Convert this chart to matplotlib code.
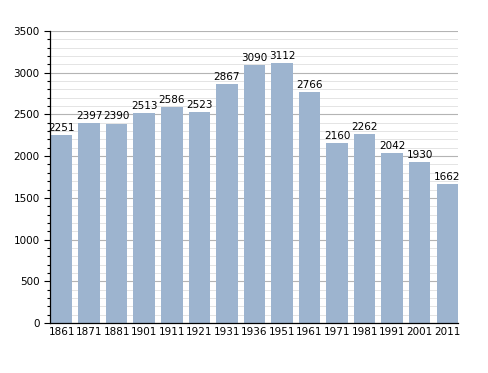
import numpy as np
import matplotlib
matplotlib.use("Agg")
import matplotlib.pyplot as plt
from matplotlib.ticker import MultipleLocator

years = ["1861", "1871", "1881", "1901", "1911", "1921", "1931", "1936",
         "1951", "1961", "1971", "1981", "1991", "2001", "2011"]
population = [2251, 2397, 2390, 2513, 2586, 2523, 2867, 3090,
              3112, 2766, 2160, 2262, 2042, 1930, 1662]

fig = plt.figure(figsize=(4.88, 3.73), dpi=100)
ax = fig.add_axes([0.1025, 0.134, 0.836, 0.783])

x = np.arange(len(years))
width = 0.78
ax.bar(x, population, width=width, color="#9db4cf", zorder=2)

for xi, v in zip(x, population):
    ax.text(xi, v + 25, str(v), ha="center", va="bottom", fontsize=7.5, zorder=3)

ax.set_xlim(-width / 2 - 0.03, len(years) - 1 + width / 2)
ax.set_ylim(0, 3500)
ax.set_xticks(x)
ax.set_xticklabels(years, fontsize=7.5)
ax.tick_params(axis="x", length=0, pad=3)

ax.yaxis.set_major_locator(MultipleLocator(500))
ax.yaxis.set_minor_locator(MultipleLocator(100))
ax.tick_params(axis="y", which="major", labelsize=7.5, length=4, width=0.8)
ax.tick_params(axis="y", which="minor", length=2.5, width=0.8)

ax.grid(axis="y", which="major", color="#b4b4b4", linewidth=0.8, zorder=0)
ax.grid(axis="y", which="minor", color="#e4e4e4", linewidth=0.7, zorder=0)
ax.set_axisbelow(True)

for s in ["top", "right"]:
    ax.spines[s].set_visible(False)
ax.spines["left"].set_linewidth(0.9)
ax.spines["bottom"].set_linewidth(0.9)

fig.savefig("out.png", dpi=100)
